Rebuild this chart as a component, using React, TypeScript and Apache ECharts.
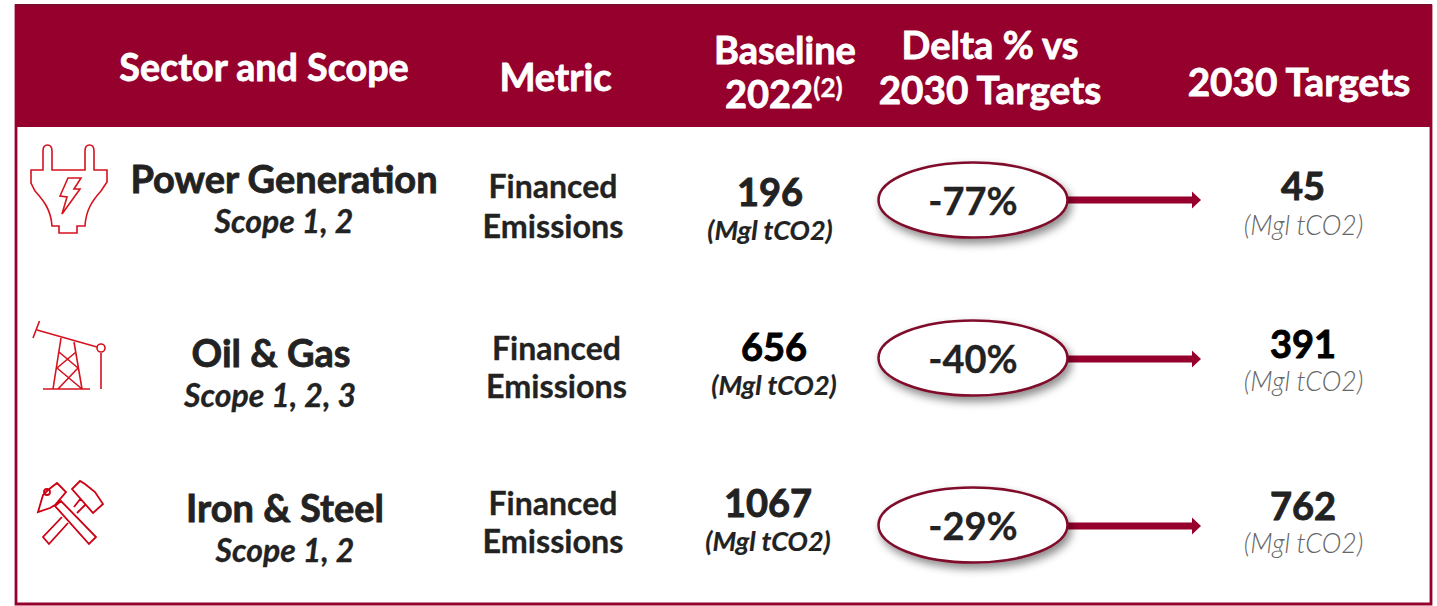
import React, { useEffect, useRef } from "react";
import * as echarts from "echarts";

const sectors = ["Power Generation", "Oil & Gas", "Iron & Steel"];
const scopes = ["Scope 1, 2", "Scope 1, 2, 3", "Scope 1, 2"];
const metricLines = ["Financed", "Emissions"];
const baselines = ["196", "656", "1067"];
const deltas = ["-77%", "-40%", "-29%"];
const targets = ["45", "391", "762"];
const unit = "(Mgl tCO2)";

const sectorX = [284, 271, 285];
const scopeX = [284, 270, 285];
const rowSector = [178, 352, 507];
const rowScope = [220, 394, 549];
const rowMetric1 = [185, 347, 502];
const rowMetric2 = [225, 385, 540];
const metricX = [553, 556.5, 553];
const rowBase = [191, 346, 502];
const rowBaseUnit = [229, 384, 540];
const baseX = [770, 774, 768];
const rowDelta = [200, 358, 525];
const rowArrow = [200, 359, 526];
const rowTarget = [185, 343, 505];
const rowTargetUnit = [225, 381, 543];

const MAROON = "#96002D";
const DARK = "#222222";
const FONT = "Lato";

const PLUG = "M31 170H43V151C43 147 45 145 47.5 145C50 145 52 147 52 151V170H85V151C85 147 87 145 89.5 145C92 145 94 147 94 151V170H107V182L101 191C92 201 86 210 85 226H77V233H59V226H52C51 210 44 201 35 191L31 183ZM68 178H81L74 189H80L62 214L67 197L60 196Z";
const PUMP = "M39.5 321L33 338M37 330L97 347M101 353V389M43 389H90M61 338L53 389M74 342L82 389M59 352L78 368M76 352L57 368M57 368L82 389M78 368L58 389M105 348A4 4 0 1 1 97 348A4 4 0 1 1 105 348Z";
const HAMMERS = "M55 506L61 501L96 537L89 544ZM57 483L66 492L55 505L50 508L38 512L43 495L48 490ZM50 492A3 3 0 1 1 44 492A3 3 0 1 1 50 492ZM62 517L43 537L49 544L68 523M74 507L81 498M77 513L86 504M80 481L72 489L93 513L103 504L95 492L85 484Z";

echarts.graphic.registerShape("plug", echarts.graphic.extendPath(PLUG, {}));
echarts.graphic.registerShape("pump", echarts.graphic.extendPath(PUMP, {}));
echarts.graphic.registerShape("hammers", echarts.graphic.extendPath(HAMMERS, {}));

const txt = (text: string, x: number, y: number, size: number, fill: string, extra: any = {}) => ({
  type: "text",
  x, y,
  style: {
    text, fill,
    fontFamily: FONT,
    fontSize: size,
    fontWeight: extra.weight ?? 700,
    fontStyle: extra.italic ? "italic" : "normal",
    align: extra.align ?? "center",
    verticalAlign: "middle",
    stroke: extra.stroke ? fill : undefined,
    lineWidth: extra.stroke ?? 0,
  },
});

export default function App() {
  const ref = useRef<HTMLDivElement>(null);
  useEffect(() => {
    document.body.style.margin = "0";
    const chart = echarts.init(ref.current!, null, { renderer: "svg" });
    const g: any[] = [
      { type: "rect", shape: { x: 16, y: 6, width: 1415, height: 598 }, style: { fill: "#fff", stroke: MAROON, lineWidth: 2.8 } },
      { type: "rect", shape: { x: 15, y: 5, width: 1417, height: 122 }, style: { fill: MAROON } },
      { type: "rect", shape: { x: 15, y: 4, width: 1417, height: 2 }, style: { fill: "#7F0A2C" } },
      txt("Sector and Scope", 264, 66, 37.7, "#fff", { stroke: 0.8 }),
      txt("Metric", 555.5, 76, 38.2, "#fff", { stroke: 0.8 }),
      txt("Baseline", 785, 49, 38, "#fff", { stroke: 0.8 }),
      txt("2022", 769, 93, 38, "#fff", { stroke: 0.8 }),
      txt("(2)", 828, 87, 26, "#fff", { stroke: 0.4 }),
      txt("Delta % vs", 990, 44, 38, "#fff", { stroke: 0.8 }),
      txt("2030 Targets", 990, 89, 38.7, "#fff", { stroke: 0.8 }),
      txt("2030 Targets", 1299, 81, 38.7, "#fff", { stroke: 0.8 }),
      { type: "plug", x: 0, y: 0, style: { fill: "none", stroke: "#D5121E", lineWidth: 1.6 } },
      { type: "pump", x: 0, y: 0, style: { fill: "none", stroke: "#D5121E", lineWidth: 1.6 } },
      { type: "hammers", x: 0, y: 0, style: { fill: "none", stroke: "#CC0012", lineWidth: 1.8 } },
    ];
    sectors.forEach((s, i) => {
      g.push(txt(s, sectorX[i], rowSector[i], 38, DARK, { stroke: 0.8 }));
      g.push(txt(scopes[i], scopeX[i], rowScope[i], 32, DARK, { italic: true, stroke: 0.3 }));
      g.push(txt(metricLines[0], metricX[i], rowMetric1[i], 32, DARK, { stroke: 0.3 }));
      g.push(txt(metricLines[1], metricX[i], rowMetric2[i], 32.3, DARK, { stroke: 0.3 }));
      g.push(txt(baselines[i], baseX[i], rowBase[i], 38, i === 1 ? "#000" : DARK, { stroke: 0.9 }));
      g.push(txt(unit, baseX[i], rowBaseUnit[i], 27, DARK, { italic: true, stroke: 0.2 }));
      const cy = rowDelta[i];
      const ay = rowArrow[i];
      g.push({ type: "rect", shape: { x: 1064, y: ay - 3.5, width: 128, height: 7 }, style: { fill: MAROON } });
      g.push({ type: "polygon", shape: { points: [[1192, ay - 8.5], [1201, ay], [1192, ay + 8.5]] }, style: { fill: MAROON } });
      g.push({
        type: "ellipse", shape: { cx: 973, cy, rx: 94.5, ry: 37.5 },
        style: { fill: "#fff", stroke: "#7F0A2C", lineWidth: 2.5, shadowBlur: 9, shadowOffsetX: 3, shadowOffsetY: 5, shadowColor: "rgba(0,0,0,0.45)" },
      });
      g.push(txt(deltas[i], 973, cy, 38, DARK, { weight: 700, stroke: 0.3 }));
      g.push(txt(targets[i], 1303, rowTarget[i], 38, i === 1 ? "#000" : DARK, { stroke: 0.9 }));
      g.push(txt(unit, 1303.5, rowTargetUnit[i], 26.6, "#666666", { italic: true, weight: 300 }));
    });
    chart.setOption({ animation: false, graphic: { elements: g } });
    return () => chart.dispose();
  }, []);
  return <div ref={ref} style={{ width: 1437, height: 606 }} />;
}
